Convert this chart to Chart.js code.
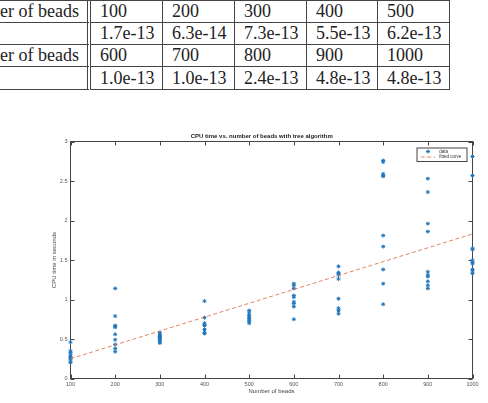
<!DOCTYPE html>
<html>
<head>
<meta charset="utf-8">
<script src="https://cdn.jsdelivr.net/npm/chart.js@4.4.0/dist/chart.umd.min.js"></script>
<style>
  html, body { margin: 0; padding: 0; background: #fff; width: 488px; height: 403px; overflow: hidden; }
  #tbl { position: absolute; top: 0; left: -59px; border-top: 1px solid #444;
         font-family: "Liberation Serif", "Times New Roman", "DejaVu Serif", serif; font-size: 18px; color: #222; }
  .row { display: flex; }
  .cell { flex: none; box-sizing: border-box; width: 72px; height: 22px; line-height: 21px;
          border-right: 1px solid #444; border-bottom: 1px solid #444; padding-left: 9px;
          white-space: nowrap; overflow: hidden; }
  .row:last-child .cell { height: 23px; line-height: 22px; }
  .cell.narrow { width: 71px; }
  .cell.head { width: 150px; text-align: right; padding-left: 0; padding-right: 8px; border-right: 4px double #444; }
  #wrap { position: absolute; left: 0; top: 100px; width: 488px; height: 303px; }
</style>
</head>
<body>
<div id="tbl"></div>
<div id="wrap"><canvas id="cpuChart"></canvas></div>
<script>
// table above the figure
const tableBeadsA = [100, 200, 300, 400, 500];
const tableErrA = ["1.7e-13", "6.3e-14", "7.3e-13", "5.5e-13", "6.2e-13"];
const tableBeadsB = [600, 700, 800, 900, 1000];
const tableErrB = ["1.0e-13", "1.0e-13", "2.4e-13", "4.8e-13", "4.8e-13"];

// CPU time (s) of each run, per number of beads
const beadCounts = [100, 200, 300, 400, 500, 600, 700, 800, 900, 1000];
const runs100 = [0.46, 0.35, 0.33, 0.30, 0.28, 0.26, 0.25, 0.22, 0.20];
const runs200 = [1.14, 0.79, 0.67, 0.66, 0.65, 0.56, 0.49, 0.43, 0.38, 0.34];
const runs300 = [0.58, 0.56, 0.54, 0.53, 0.52, 0.51, 0.50, 0.48, 0.46, 0.45];
const runs400 = [0.98, 0.77, 0.70, 0.68, 0.67, 0.62, 0.58, 0.57];
const runs500 = [0.86, 0.83, 0.80, 0.78, 0.76, 0.74, 0.72, 0.70];
const runs600 = [1.20, 1.18, 1.14, 1.05, 1.03, 0.97, 0.95, 0.91, 0.75];
const runs700 = [1.42, 1.34, 1.33, 1.31, 1.26, 1.01, 0.89, 0.86, 0.82];
const runs800 = [2.76, 2.74, 2.59, 2.57, 2.56, 1.81, 1.67, 1.38, 1.20, 0.94];
const runs900 = [2.53, 2.36, 1.96, 1.86, 1.35, 1.31, 1.29, 1.23, 1.18, 1.14];
const runs1000 = [2.81, 2.57, 1.65, 1.63, 1.50, 1.47, 1.45, 1.38, 1.36, 1.33];
const allRuns = [runs100, runs200, runs300, runs400, runs500, runs600, runs700, runs800, runs900, runs1000];

// fitted line end points
const fitBeads = [100, 1000];
const fitTime = [0.25, 1.83];

const xTicks = [100, 200, 300, 400, 500, 600, 700, 800, 900, 1000];
const yTicks = [0, 0.5, 1, 1.5, 2, 2.5, 3];

function buildTable() {
  const tbl = document.getElementById("tbl");
  const rows = [
    ["Number of beads", tableBeadsA],
    ["", tableErrA],
    ["Number of beads", tableBeadsB],
    ["", tableErrB]
  ];
  rows.forEach(([head, vals]) => {
    const row = document.createElement("div");
    row.className = "row";
    const h = document.createElement("div");
    h.className = "cell head";
    h.textContent = head;
    row.appendChild(h);
    vals.forEach((v, i) => {
      const c = document.createElement("div");
      c.className = "cell" + (i === 3 ? " narrow" : "");
      c.textContent = v;
      row.appendChild(c);
    });
    tbl.appendChild(row);
  });
}
buildTable();

const points = [];
allRuns.forEach((runs, i) => {
  runs.forEach(t => points.push({ x: beadCounts[i], y: t }));
});
const fitPoints = fitBeads.map((b, i) => ({ x: b, y: fitTime[i] }));

const blue = "#2176bb";
const orange = "rgba(222,110,70,0.85)";

// matlab style box with inward ticks
const axesBox = {
  id: "axesBox",
  beforeDatasetsDraw(chart) {
    const { ctx, chartArea: a, scales: { x, y } } = chart;
    ctx.save();
    ctx.strokeStyle = "#444";
    ctx.lineWidth = 1;
    ctx.beginPath();
    x.ticks.forEach(t => {
      const px = Math.round(x.getPixelForValue(t.value)) + 0.5;
      ctx.moveTo(px, a.bottom); ctx.lineTo(px, a.bottom - 4);
      ctx.moveTo(px, a.top); ctx.lineTo(px, a.top + 4);
    });
    y.ticks.forEach(t => {
      const py = Math.round(y.getPixelForValue(t.value)) + 0.5;
      ctx.moveTo(a.left, py); ctx.lineTo(a.left + 4, py);
      ctx.moveTo(a.right, py); ctx.lineTo(a.right - 4, py);
    });
    ctx.stroke();
    ctx.strokeRect(a.left, a.top, a.right - a.left, a.bottom - a.top);
    ctx.restore();
  }
};

const boxLegend = {
  id: "boxLegend",
  afterDraw(chart) {
    const { ctx, chartArea: a } = chart;
    const w = 50, h = 13.5;
    const x0 = a.right - 5.5 - w, y0 = a.top + 6.5;
    ctx.save();
    ctx.fillStyle = "#fff";
    ctx.fillRect(x0, y0, w, h);
    ctx.strokeStyle = "#444";
    ctx.lineWidth = 1;
    ctx.strokeRect(x0, y0, w, h);
    ctx.font = "4.5px 'Liberation Sans', Arial, sans-serif";
    ctx.textBaseline = "middle";
    chart.data.datasets.forEach((ds, i) => {
      const cy = y0 + 3.5 + i * 5.5;
      ctx.strokeStyle = ds.borderColor;
      if (ds.showLine) {
        ctx.setLineDash([4, 2.5]);
        ctx.beginPath();
        ctx.moveTo(x0 + 3.7, cy);
        ctx.lineTo(x0 + 18, cy);
        ctx.stroke();
        ctx.setLineDash([]);
      } else {
        Chart.helpers.drawPoint(ctx, { pointStyle: "star", radius: 2, borderWidth: 1, rotation: 0 }, x0 + 11, cy);
      }
      ctx.fillStyle = "#333";
      ctx.fillText(ds.label, x0 + 22.3, cy);
    });
    ctx.restore();
  }
};

Chart.defaults.font.family = "'Liberation Sans', Arial, sans-serif";

new Chart(document.getElementById("cpuChart"), {
  type: "scatter",
  data: {
    datasets: [
      {
        label: "data",
        data: points,
        pointStyle: "star",
        pointRadius: 2,
        pointBorderWidth: 1,
        borderColor: blue,
        backgroundColor: blue,
        showLine: false,
        clip: false,
        order: 1
      },
      {
        label: "fitted curve",
        data: fitPoints,
        showLine: true,
        borderColor: orange,
        borderWidth: 1,
        borderDash: [4, 2.5],
        pointRadius: 0,
        order: 0
      }
    ]
  },
  options: {
    responsive: true,
    maintainAspectRatio: false,
    animation: false,
    events: [],
    layout: { padding: { left: 51, right: 15.5, top: 0, bottom: 7.7 } },
    plugins: {
      legend: { display: false },
      tooltip: { enabled: false },
      title: {
        display: true,
        text: "CPU time vs. number of beads with tree algorithm",
        font: { size: 6, weight: "bold" },
        color: "#222",
        padding: { top: 32.4, bottom: 1.9 }
      }
    },
    scales: {
      x: {
        type: "linear",
        min: 100,
        max: 1000,
        afterBuildTicks: s => { s.ticks = xTicks.map(v => ({ value: v })); },
        afterFit: s => { s.height = 16.8; },
        grid: { display: false, drawTicks: false },
        border: { display: false },
        ticks: { font: { size: 5.5 }, color: "#555", padding: 2.5, maxRotation: 0, autoSkip: false, callback: v => String(v) },
        title: { display: true, text: "Number of beads", font: { size: 6 }, color: "#444", padding: 0 }
      },
      y: {
        min: 0,
        max: 3,
        afterBuildTicks: s => { s.ticks = yTicks.map(v => ({ value: v })); },
        afterFit: s => { s.width = 19.5; },
        grid: { display: false, drawTicks: false },
        border: { display: false },
        ticks: { font: { size: 5.5 }, color: "#555", padding: 3, autoSkip: false, callback: v => String(v) },
        title: { display: true, text: "CPU time in seconds", font: { size: 6 }, color: "#444", padding: 0 }
      }
    }
  },
  plugins: [axesBox, boxLegend]
});
</script>
</body>
</html>
